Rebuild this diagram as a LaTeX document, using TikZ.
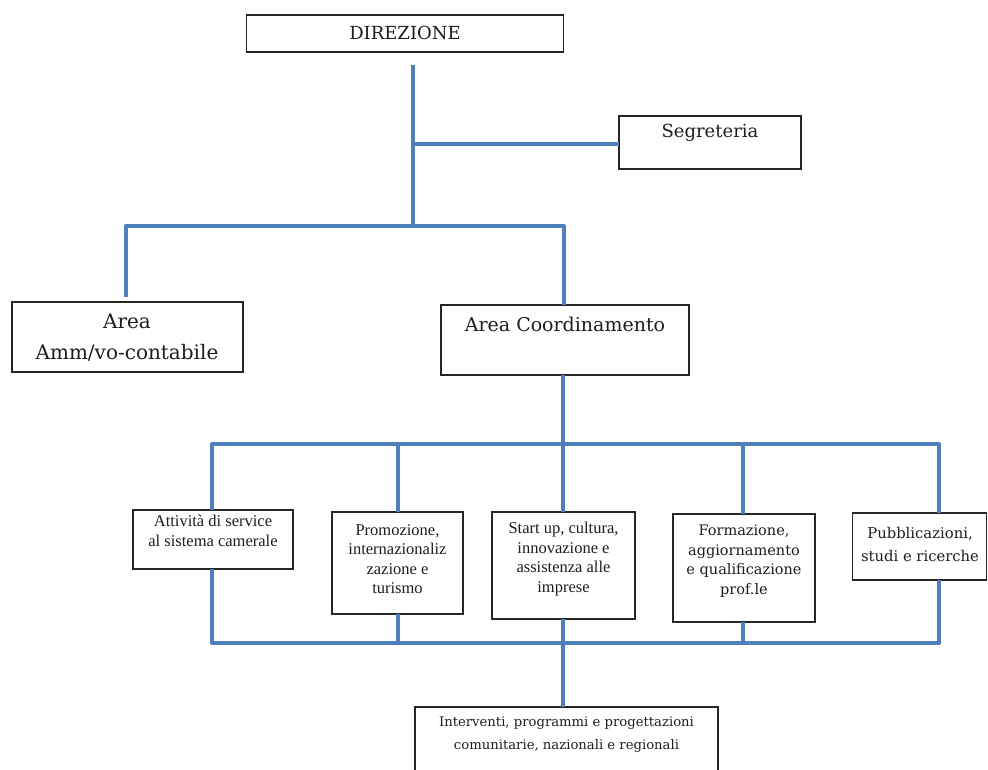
\documentclass[tikz,border=0pt]{standalone}
\usepackage{fontspec}
\newfontfamily\timesf{Liberation Serif}
\newfontfamily\camf{DejaVu Serif}
\definecolor{lineblue}{HTML}{4F7FBC}
\definecolor{txt}{HTML}{1E1E1E}
\tikzset{
  box/.style={draw=black!85, line width=1.1pt, fill=white, inner sep=0pt, outer sep=0pt},
  conn/.style={draw=lineblue, line width=4pt},
  lbl/.style={text=txt, align=center, inner sep=0pt},
  big/.style={font=\camf\fontsize{20}{31}\selectfont},
  mid/.style={font=\camf\fontsize{18}{22}\selectfont},
  coordf/.style={font=\camf\fontsize{19}{22}\selectfont},
  sm/.style={font=\camf\fontsize{13.2}{22.5}\selectfont},
  smf/.style={font=\camf\fontsize{14.5}{19.5}\selectfont},
  smp/.style={font=\camf\fontsize{14.8}{23}\selectfont},
  tms/.style={font=\timesf\fontsize{16.5}{19.5}\selectfont},
}
\begin{document}
\begin{tikzpicture}[x=1pt,y=-1pt]
\useasboundingbox (0,0) rectangle (988,769);
\clip (0,0) rectangle (988,769);
\fill[white] (0,0) rectangle (988,769);

% boxes
\node[box, minimum width=317pt, minimum height=37pt] (dir) at (405,33.5) {};
\node[box, minimum width=182pt, minimum height=53pt] (seg) at (710,142.5) {};
\node[box, minimum width=231pt, minimum height=70pt] (amm) at (127.5,337) {};
\node[box, minimum width=248pt, minimum height=70pt] (coord) at (565,340) {};
\node[box, minimum width=160pt, minimum height=59pt] (b1) at (213,539.5) {};
\node[box, minimum width=131pt, minimum height=102pt] (b2) at (397.5,563) {};
\node[box, minimum width=143pt, minimum height=107pt] (b3) at (563.5,565.5) {};
\node[box, minimum width=142pt, minimum height=108pt] (b4) at (744,568) {};
\node[box, minimum width=134pt, minimum height=67pt] (b5) at (919.5,546.5) {};
\node[box, minimum width=303pt, minimum height=83pt] (bot) at (566.5,748.5) {};

% texts
\node[lbl, mid] (dirT) at (405,33) {DIREZIONE};
\node[lbl, mid] (segT) at (710,133) {Segreteria};
\node[lbl, big] (ammT) at (127,337.5) {Area\\Amm/vo-contabile};
\node[lbl, coordf] (coordT) at (565,324) {Area Coordinamento};
\node[lbl, tms] (b1T) at (213,531) {Attività di service\\al sistema camerale};
\node[lbl, tms] (b2T) at (397.5,559) {Promozione,\\internazionaliz\\zazione e\\turismo};
\node[lbl, tms] (b3T) at (563.5,559) {Start up, cultura,\\innovazione e\\assistenza alle\\imprese};
\node[lbl, smf] (b4T) at (744,561) {Formazione,\\aggiornamento\\e qualificazione\\prof.le};
\node[lbl, smp] (b5T) at (920,544) {Pubblicazioni,\\studi e ricerche};
\node[lbl, sm] (botT) at (566.5,734.5) {Interventi, programmi e progettazioni\\comunitarie, nazionali e regionali};

% junction coordinates
\coordinate (d0) at (413,65);
\coordinate (dS) at (413,144);
\coordinate (j1) at (413,226);
\coordinate (jL) at (126,226);
\coordinate (jR) at (564,226);
\coordinate (aT) at (126,297);
\coordinate (c0) at (563,444);
\coordinate (k1) at (212,444);
\coordinate (k2) at (398,444);
\coordinate (k4) at (743,444);
\coordinate (k5) at (939,444);
\coordinate (m1) at (212,643);
\coordinate (m2) at (398,643);
\coordinate (m3) at (563,643);
\coordinate (m4) at (743,643);
\coordinate (m5) at (939,643);

% connectors
\draw[conn] (d0) -- (j1);
\draw[conn] (dS) -- (dS -| seg.west);
\draw[conn, line join=round] (aT) -- (jL) -- (jR) -- (coord.north -| jR);
\draw[conn] (coord.south -| c0) -- (c0);
\draw[conn, line join=round] (b1.north -| k1) -- (k1) -- (k5) -- (b5.north -| k5);
\draw[conn] (k2) -- (b2.north -| k2);
\draw[conn] (c0) -- (b3.north -| c0);
\draw[conn] (k4) -- (b4.north -| k4);
\draw[conn, line join=round] (b1.south -| m1) -- (m1) -- (m5) -- (b5.south -| m5);
\draw[conn] (b2.south -| m2) -- (m2);
\draw[conn] (b3.south -| m3) -- (m3);
\draw[conn] (b4.south -| m4) -- (m4);
\draw[conn] (m3) -- (bot.north -| m3);
\end{tikzpicture}
\end{document}
